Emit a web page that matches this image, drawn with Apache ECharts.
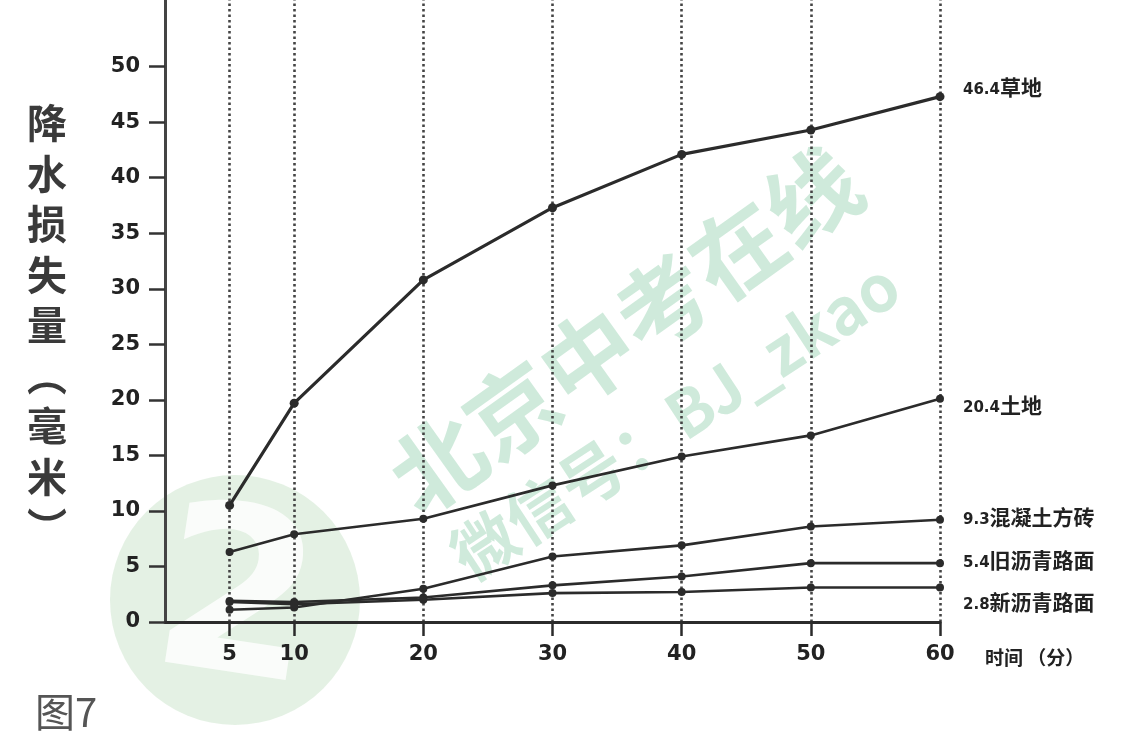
<!DOCTYPE html>
<html>
<head>
<meta charset="utf-8">
<script src="https://cdn.jsdelivr.net/npm/echarts@6/dist/echarts.min.js"></script>
<style>html,body{margin:0;padding:0;background:#fff;}#c{width:1139px;height:747px;}</style>
</head>
<body>
<div id="c"></div>
<script>
// ---- data ----
const xValues = [5, 10, 20, 30, 40, 50, 60];
const grass = [10.5, 19.7, 30.8, 37.3, 42.1, 44.3, 47.3];
const soil = [6.3, 7.9, 9.3, 12.3, 14.9, 16.8, 20.1];
const concrete = [1.1, 1.3, 3.0, 5.9, 6.9, 8.6, 9.2];
const oldAsphalt = [1.9, 1.8, 2.2, 3.3, 4.1, 5.3, 5.3];
const newAsphalt = [1.8, 1.6, 2.0, 2.6, 2.7, 3.1, 3.1];
const seriesNames = ['草地', '土地', '混凝土方砖', '旧沥青路面', '新沥青路面'];
const endValues = ['46.4', '20.4', '9.3', '5.4', '2.8'];
const yTicks = [0, 5, 10, 15, 20, 25, 30, 35, 40, 45, 50];
const xTicks = [5, 10, 20, 30, 40, 50, 60];
const yTitle = '降水损失量（毫米）';
const xTitle = '时间（分）';
const figLabel = '图7';

const allSeries = [grass, soil, concrete, oldAsphalt, newAsphalt];
const labelY = [87, 405, 517, 560, 602];

const chart = echarts.init(document.getElementById('c'));
const lineColor = '#2b2b2b';
const series = allSeries.map((vals, i) => ({
  name: seriesNames[i],
  type: 'line',
  data: vals.map((v, k) => [xValues[k], v]),
  symbol: 'circle',
  symbolSize: i === 0 ? 9 : 8,
  itemStyle: { color: lineColor },
  lineStyle: { color: lineColor, width: i === 0 ? 3.2 : 2.6 },
  z: 5,
  animation: false
}));
// dotted vertical gridlines at each sampled time
series.push({
  type: 'line', data: [], silent: true, animation: false, z: 4,
  markLine: {
    symbol: 'none', silent: true, animation: false,
    label: { show: false },
    lineStyle: { type: [2.5, 3], color: '#444', width: 2.6 },
    data: xTicks.map(x => ({ xAxis: x }))
  }
});

const wm = 'rgba(140,205,170,0.42)';
const graphics = [];
// watermark logo circle
graphics.push({ type: 'circle', shape: { cx: 235, cy: 600, r: 125 },
  style: { fill: 'rgba(150,200,150,0.26)' }, z: 0, silent: true });
graphics.push({ type: 'text', x: 235, y: 612, rotation: -0.15,
  style: { text: '2', font: 'bold 230px "DejaVu Sans"', fill: 'rgba(255,255,255,0.8)', align: 'center', verticalAlign: 'middle' }, z: 1, silent: true });
// watermark texts
graphics.push({ type: 'text', x: 625, y: 330, rotation: 0.62,
  style: { text: '北京中考在线', font: 'bold 92px "Noto Sans CJK SC"', fill: wm, align: 'center', verticalAlign: 'middle' }, z: 2, silent: true });
graphics.push({ type: 'text', x: 675, y: 420, rotation: 0.58,
  style: { text: '微信号：BJ_zkao', font: 'bold 64px "Noto Sans CJK SC"', fill: wm, align: 'center', verticalAlign: 'middle' }, z: 2, silent: true });
// y title (vertical)
graphics.push({ type: 'text', x: 47, y: 325,
  style: { text: '降\n水\n损\n失\n量\n︵\n毫\n米\n︶', font: 'bold 40px "Noto Sans CJK SC"', lineHeight: 50.5, fill: '#3a3a3a', align: 'center', verticalAlign: 'middle' }, silent: true });
// x title
graphics.push({ type: 'text', x: 985, y: 658,
  style: { text: '时间 （分）', font: 'bold 19px "Noto Sans CJK SC"', fill: '#222', align: 'left', verticalAlign: 'middle' }, silent: true });
// figure label
graphics.push({ type: 'text', x: 35, y: 712,
  style: { text: figLabel, font: '40px "Noto Sans CJK SC"', fill: '#555', align: 'left', verticalAlign: 'middle' }, silent: true });
// end labels
allSeries.forEach((vals, i) => {
  graphics.push({ type: 'text', x: 963, y: labelY[i],
    style: { text: '{n|' + endValues[i] + '}{c|' + seriesNames[i] + '}',
      rich: { n: { font: 'bold 15px "DejaVu Sans"', fill: '#222', padding: [7, 0, 0, 0] },
              c: { font: 'bold 21px "Noto Sans CJK SC"', fill: '#222' } },
      align: 'left', verticalAlign: 'middle' }, silent: true });
});

chart.setOption({
  backgroundColor: '#ffffff',
  animation: false,
  grid: { left: 165, right: 199, top: 0, bottom: 125, containLabel: false },
  xAxis: {
    type: 'value', min: 0, max: 60, z: 6,
    axisLine: { show: true, lineStyle: { color: '#2b2b2b', width: 3 } },
    axisTick: { show: true, customValues: xTicks, inside: false, length: 14, lineStyle: { color: '#2b2b2b', width: 2.5 } },
    axisLabel: { customValues: xTicks, margin: 22, color: '#222', fontSize: 21, fontWeight: 'bold', fontFamily: 'DejaVu Sans' },
    splitLine: { show: false }
  },
  yAxis: {
    type: 'value', min: 0, max: 56, z: 6,
    axisLine: { show: true, lineStyle: { color: '#444', width: 3 } },
    axisTick: { show: true, customValues: yTicks, length: 16, lineStyle: { color: '#333', width: 2.5 } },
    axisLabel: { customValues: yTicks, margin: 25, color: '#222', fontSize: 21, fontWeight: 'bold', fontFamily: 'DejaVu Sans' },
    splitLine: { show: false }
  },
  series: series,
  graphic: graphics
});
</script>
</body>
</html>
